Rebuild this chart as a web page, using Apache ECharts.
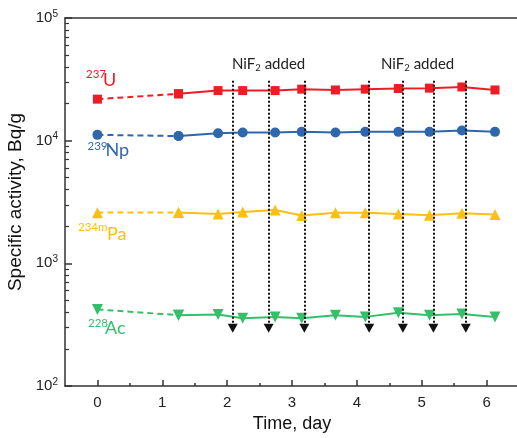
<!DOCTYPE html>
<html>
<head>
<meta charset="utf-8">
<script src="https://cdn.jsdelivr.net/npm/echarts@6/dist/echarts.min.js"></script>
<style>html,body{margin:0;padding:0;background:#fff;}#c{width:517px;height:438px;}</style>
</head>
<body>
<div id="c"></div>
<script>
// ---- data ----
const days   = [0, 1.25, 1.86, 2.24, 2.74, 3.15, 3.67, 4.13, 4.64, 5.12, 5.62, 6.13];
const u237   = [21800, 24100, 25600, 25600, 25600, 26300, 25900, 26300, 26600, 26800, 27400, 25900];
const np239  = [11150, 10900, 11500, 11650, 11650, 11800, 11650, 11800, 11800, 11800, 12100, 11800];
const pa234m = [2590, 2600, 2520, 2620, 2720, 2450, 2590, 2590, 2520, 2470, 2560, 2500];
const ac228  = [421, 378, 383, 356, 366, 356, 378, 366, 396, 378, 386, 366];
const nifDays = [2.086, 2.64, 3.19, 4.19, 4.71, 5.18, 5.68];
const arrowFrom = 30800, arrowTo = 296;
const xTicks = [0, 1, 2, 3, 4, 5, 6];
const xMinorTicks = [0.5, 1.5, 2.5, 3.5, 4.5, 5.5];
const yMinorTicks = [200,300,400,500,600,700,800,900,2000,3000,4000,5000,6000,7000,8000,9000,20000,30000,40000,50000,60000,70000,80000,90000];

const RED = '#ee1c24', BLUE = '#2f67ad', YEL = '#fdbf12', GRN = '#36bf6a';
const axisFont = 'Liberation Sans, Arial, sans-serif';
const lblFont = 'Lato, sans-serif';

function pairs(xs, ys) { return xs.map((x, i) => [x, ys[i]]); }

function nuclide(name, vals, color, symbol, size, rotate) {
  const pts = pairs(days, vals);
  const common = {
    type: 'line', xAxisIndex: 0, yAxisIndex: 0, symbol: symbol, symbolSize: size,
    symbolRotate: rotate || 0, itemStyle: { color: color }, animation: false, z: 3
  };
  return [
    Object.assign({}, common, { name: name + ' (extrap)', data: pts.slice(0, 2),
      lineStyle: { color: color, width: 2, type: [6, 4] } }),
    Object.assign({}, common, { name: name, data: pts.slice(1),
      lineStyle: { color: color, width: 2 } })
  ];
}

function txt(text, x, y, size, color) {
  return { type: 'text', x: x, y: y, z: 10,
    style: { text: text, fill: color, fontFamily: lblFont, fontSize: size,
             verticalAlign: 'middle', textVerticalAlign: 'middle', align: 'left' } };
}
function nucLabel(sup, main, sx, sy, mx, my, color) {
  return [txt(sup, sx, sy, 11.5, color), txt(main, mx, my, 18, color)];
}
function nifLabel(x, y) {
  return { type: 'text', x: x, y: y, z: 10, style: { text: '{a|NiF}{b|2}{a| added}',
      verticalAlign: 'middle', textVerticalAlign: 'middle',
      rich: { a: { fontFamily: lblFont, fontSize: 15, fill: '#222', color: '#222' },
              b: { fontFamily: lblFont, fontSize: 9.5, fill: '#222', color: '#222', verticalAlign: 'bottom', padding: [7, 0, 0, 0] } } } };
}

const chart = echarts.init(document.getElementById('c'), null, { renderer: 'canvas' });

const option = {
  animation: false,
  backgroundColor: '#fff',
  grid: { left: 65, top: 18, width: 454, height: 368, show: false,
          containLabel: false, outerBoundsMode: 'none' },
  xAxis: [
    { type: 'value', min: -0.5, max: 6.5, position: 'bottom',
      name: 'Time, day', nameLocation: 'middle', nameGap: 28,
      nameTextStyle: { fontFamily: axisFont, fontSize: 18, color: '#111' },
      axisLine: { show: true, onZero: false, lineStyle: { color: '#333', width: 1.5 } },
      axisTick: { show: true, inside: true, length: 6, customValues: xTicks, lineStyle: { color: '#333', width: 1.5 } },
      axisLabel: { show: true, customValues: xTicks, margin: 9, fontFamily: axisFont, fontSize: 15, color: '#222' },
      splitLine: { show: false } },
    { type: 'value', min: -0.5, max: 6.5, position: 'bottom',
      axisLine: { show: false, onZero: false },
      axisTick: { show: true, inside: true, length: 3, customValues: xMinorTicks, lineStyle: { color: '#333', width: 1.5 } },
      axisLabel: { show: false }, splitLine: { show: false } },
    { type: 'value', min: -0.5, max: 6.5, position: 'top',
      axisLine: { show: true, onZero: false, lineStyle: { color: '#333', width: 1.5 } },
      axisTick: { show: false }, axisLabel: { show: false }, splitLine: { show: false } }
  ],
  yAxis: [
    { type: 'log', logBase: 10, min: 100, max: 100000, position: 'left',
      name: 'Specific activity, Bq/g', nameLocation: 'middle', nameGap: 31,
      nameTextStyle: { fontFamily: axisFont, fontSize: 19, color: '#111' },
      axisLine: { show: true, onZero: false, lineStyle: { color: '#333', width: 1.5 } },
      axisTick: { show: true, inside: true, length: 7, lineStyle: { color: '#333', width: 1.5 } },
      axisLabel: { show: true, margin: 7, formatter: function (v) {
          const e = Math.round(Math.log10(v));
          return '{b|10}{e|' + e + '}';
        },
        rich: { b: { fontFamily: axisFont, fontSize: 15, color: '#222' },
                e: { fontFamily: axisFont, fontSize: 10, color: '#222', verticalAlign: 'top', padding: [0, 0, 8, 0] } } },
      splitLine: { show: false } },
    { type: 'log', logBase: 10, min: 100, max: 100000, position: 'left',
      axisLine: { show: false, onZero: false },
      axisTick: { show: true, inside: true, length: 4, customValues: yMinorTicks, lineStyle: { color: '#333', width: 1.2 } },
      axisLabel: { show: false }, splitLine: { show: false } }
  ],
  series: [].concat(
    nuclide('237U', u237, RED, 'rect', 9),
    nuclide('239Np', np239, BLUE, 'circle', 10),
    nuclide('234mPa', pa234m, YEL, 'triangle', 11),
    nuclide('228Ac', ac228, GRN, 'triangle', 11, 180),
    [{
      type: 'line', name: 'NiF2 additions', data: [], xAxisIndex: 0, yAxisIndex: 0, z: 5,
      markLine: {
        silent: true, animation: false,
        symbol: ['none', 'triangle'], symbolSize: [10, 9],
        label: { show: false },
        lineStyle: { color: '#111', width: 2, type: [2, 2] },
        data: nifDays.map(d => [{ coord: [d, arrowFrom] }, { coord: [d, arrowTo] }])
      }
    }]
  ),
  graphic: [].concat(
    nucLabel('237', 'U', 86, 74.5, 103, 80.5, RED),
    nucLabel('239', 'Np', 87.5, 146, 105.5, 150.5, BLUE),
    nucLabel('234m', 'Pa', 78, 227, 107, 234, YEL),
    nucLabel('228', 'Ac', 88, 323, 105, 328, GRN),
    [nifLabel(232, 64), nifLabel(381, 64)]
  )
};
chart.setOption(option);
</script>
</body>
</html>
